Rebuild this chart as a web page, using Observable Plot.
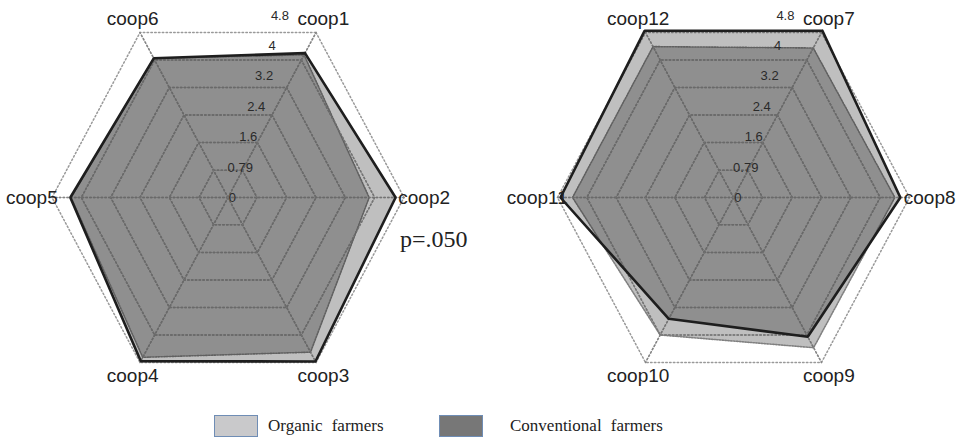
<!DOCTYPE html>
<html>
<head>
<meta charset="utf-8">
<script src="https://cdn.jsdelivr.net/npm/d3@7"></script>
<script src="https://cdn.jsdelivr.net/npm/@observablehq/plot@0.6"></script>
<style>
  html, body { margin: 0; padding: 0; background: #fff; }
  #wrap { position: relative; width: 957px; height: 441px; overflow: hidden; }
  .chart { position: absolute; top: 0; }
  #pval { position: absolute; left: 400px; top: 226px; font-family: "Liberation Serif", "Times New Roman", serif; font-size: 24px; color: #222; }
  #legend { position: absolute; top: 415px; left: 0; width: 957px; height: 24px; font-family: "Liberation Serif", "Times New Roman", serif; font-size: 17px; color: #222; }
  .sw { position: absolute; top: 0; width: 44px; height: 22px; box-sizing: border-box; border: 1px solid #6f8db5; }
  .lt { position: absolute; top: 1px; word-spacing: 5px; }
</style>
</head>
<body>
<div id="wrap">
  <div id="left" class="chart" style="left:0px"></div>
  <div id="right" class="chart" style="left:478px"></div>
  <div id="pval">p=.050</div>
  <div id="legend"></div>
</div>
<script>
// ---- data ----
const categoriesLeft = ["coop1", "coop2", "coop3", "coop4", "coop5", "coop6"];
const organicLeft = [4.15, 3.85, 4.5, 4.65, 4.28, 4.05];
const conventionalLeft = [4.2, 4.57, 4.77, 4.76, 4.3, 4.05];

const categoriesRight = ["coop7", "coop8", "coop9", "coop10", "coop11", "coop12"];
const organicRight = [4.35, 4.4, 4.37, 4.0, 4.39, 4.39];
const conventionalRight = [4.85, 4.55, 4.05, 3.53, 4.72, 4.85];

const tickValues = [0, 0.79, 1.6, 2.4, 3.2, 4, 4.8];
const tickLabels = ["0", "0.79", "1.6", "2.4", "3.2", "4", "4.8"];

const seriesNames = ["Organic farmers", "Conventional farmers"];
const legendColors = ["#c9c9cb", "#777777"];

// ---- helpers ----
const angleOf = i => (60 - 60 * i) * Math.PI / 180;
function polygon(values) {
  const pts = values.map((v, i) => ({x: v * Math.cos(angleOf(i)), y: v * Math.sin(angleOf(i))}));
  pts.push(pts[0]);
  return pts;
}

function radar(categories, organic, conventional, cx, width) {
  const maxV = tickValues[tickValues.length - 1];
  const rings = tickValues.slice(1).map(t => polygon(categories.map(() => t)));
  const spokes = categories.map((c, i) => [
    {x: 0, y: 0},
    {x: maxV * Math.cos(angleOf(i)), y: maxV * Math.sin(angleOf(i))}
  ]);
  const labelData = categories.map((c, i) => {
    const a = angleOf(i);
    const horiz = Math.abs(Math.sin(a)) < 0.01;
    const r = horiz ? 5.35 : 5.2;
    return {name: c, x: r * Math.cos(a), y: r * Math.sin(a)};
  });
  const tickData = tickValues.map((t, k) => ({t, label: tickLabels[k]}));
  const gridStyle = {stroke: "#777", strokeWidth: 1.5, strokeDasharray: "1.5,2.3"};

  return Plot.plot({
    width: width,
    height: 405,
    x: {domain: [-maxV, maxV], range: [cx - 176, cx + 176], axis: null},
    y: {domain: [-maxV, maxV], range: [197 + 190.5, 197 - 190.5], axis: null},
    style: {background: "transparent", overflow: "visible"},
    marks: [
      ...rings.map(r => Plot.line(r, {x: "x", y: "y", ...gridStyle, stroke: "#999"})),
      ...spokes.map(s => Plot.line(s, {x: "x", y: "y", ...gridStyle, stroke: "#999"})),
      // organic
      Plot.line(polygon(organic), {x: "x", y: "y", fill: "#000", fillOpacity: 0.25, stroke: "#808080", strokeWidth: 1.6, strokeDasharray: "1.4,1.4"}),
      // conventional
      Plot.line(polygon(conventional), {x: "x", y: "y", fill: "#000", fillOpacity: 0.25, stroke: "none"}),
      // grid visible through fills
      ...rings.slice(0, -1).map(r => Plot.line(r, {x: "x", y: "y", ...gridStyle, strokeOpacity: 0.6})),
      ...spokes.map(s => Plot.line(s, {x: "x", y: "y", ...gridStyle, strokeOpacity: 0.6})),
      Plot.line(polygon(conventional), {x: "x", y: "y", stroke: "#1e1e1e", strokeWidth: 2.6, strokeLinejoin: "miter"}),
      // tick labels
      Plot.text(tickData, {
        x: d => 0.12 + d.t * 0.27, y: d => d.t * 0.955, text: "label",
        fontSize: 13, fill: "#2a2a2a", fontFamily: "Liberation Sans, Arial, sans-serif"
      }),
      // category labels
      Plot.text(labelData, {
        x: "x", y: "y", text: "name", fontSize: 19, fill: "#222",
        fontFamily: "Liberation Sans, Arial, sans-serif"
      })
    ]
  });
}

document.getElementById("left").appendChild(radar(categoriesLeft, organicLeft, conventionalLeft, 227.5, 478));
document.getElementById("right").appendChild(radar(categoriesRight, organicRight, conventionalRight, 255, 479));

// legend
const legend = document.getElementById("legend");
const swX = [214, 439];
const txX = [268, 510];
seriesNames.forEach((name, i) => {
  const sw = document.createElement("div");
  sw.className = "sw";
  sw.style.left = swX[i] + "px";
  sw.style.background = legendColors[i];
  legend.appendChild(sw);
  const t = document.createElement("div");
  t.className = "lt";
  t.style.left = txX[i] + "px";
  t.textContent = name;
  legend.appendChild(t);
});
</script>
</body>
</html>
